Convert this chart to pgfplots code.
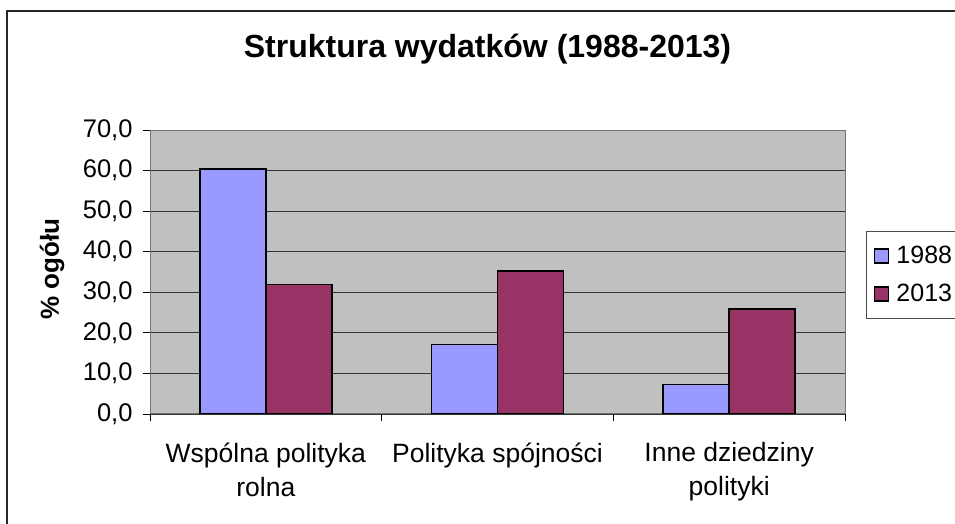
\documentclass[border=0pt]{standalone}
\usepackage{fontspec}
\setmainfont{Liberation Sans}
\usepackage{pgfplots}
\pgfplotsset{compat=1.18}
\definecolor{cA}{HTML}{9999FF}
\definecolor{cB}{HTML}{993366}
\definecolor{plotbg}{HTML}{C0C0C0}
\begin{document}
\begin{tikzpicture}[x=1pt,y=1pt]
\useasboundingbox (0,0) rectangle (955,524);
\clip (0,0) rectangle (955,524);
\draw[line width=1.3pt, black!85] (7,513) rectangle (1000,-20);
\node[anchor=base, font=\fontsize{32}{38}\selectfont\bfseries] at (487.5,466) {Struktura wydatków (1988-2013)};
\begin{axis}[
  at={(150pt,110pt)}, anchor=south west,
  scale only axis, width=695pt, height=284pt,
  ybar=0pt, bar width=66pt,
  xmin=-0.5, xmax=2.5, ymin=0, ymax=70,
  ytick={0,10,...,70},
  xtick={0,1,2},
  xticklabels={{Wspólna polityka\\rolna},{Polityka spójności},{Inne dziedziny\\polityki}},
  minor xtick={-0.5,0.5,1.5,2.5},
  major x tick style={draw=none},
  tick align=outside,
  xtick pos=bottom, ytick pos=left,
  major tick length=7pt, minor tick length=7pt,
  tick style={black, line width=0.8pt},
  axis background/.style={fill=plotbg},
  axis line style={draw=black!55, line width=1pt},
  ymajorgrids, grid style={black!80, line width=0.8pt},
  /pgf/number format/.cd, fixed, fixed zerofill, precision=1, use comma, assume math mode=true,
  /pgfplots/.cd,
  yticklabel style={font=\fontsize{25.5}{30}\selectfont, anchor=east, xshift=-7pt},
  xticklabel style={font=\fontsize{26.5}{34}\selectfont, align=center, anchor=north, yshift=-18pt},
  ylabel={\% ogółu},
  ylabel style={font=\fontsize{26}{30}\selectfont\bfseries, at={(axis description cs:-0.141,0.51)}, anchor=center},
  legend style={at={(axis description cs:1.030,0.644)}, anchor=north west, draw=black!70, line width=0.8pt, fill=white,
    font=\fontsize{25}{30}\selectfont, inner xsep=8pt, inner ysep=15pt, row sep=19pt,
    nodes={inner xsep=2pt, inner ysep=0pt},
    /tikz/every odd column/.append style={column sep=5pt}},
  legend image code/.code={\draw[#1, line width=1.2pt] (0pt,-7pt) rectangle (14pt,7pt);},
]
\addplot[fill=cA, draw=black, line width=1.6pt] coordinates {(0,60.4) (1,17.1) (2,7.3)};
\addplot[fill=cB, draw=black, line width=1.6pt] coordinates {(0,31.9) (1,35.3) (2,25.9)};
\legend{1988,2013}
\end{axis}
\end{tikzpicture}
\end{document}
